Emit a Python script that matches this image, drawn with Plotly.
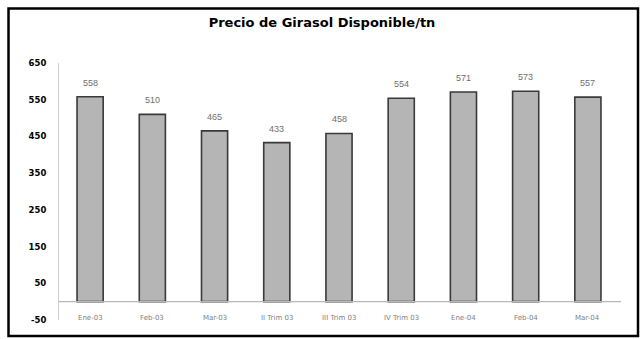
import plotly.graph_objects as go

# Monthly / quarterly sunflower prices (per tonne)
categories = ["Ene-03", "Feb-03", "Mar-03", "II Trim 03", "III Trim 03",
              "IV Trim 03", "Ene-04", "Feb-04", "Mar-04"]
prices = [558, 510, 465, 433, 458, 554, 571, 573, 557]
y_ticks = [650, 550, 450, 350, 250, 150, 50, -50]

W, H = 641, 339
L, R, T, B = 59, 22, 63, 19
pw, ph = W - L - R, H - T - B

fig = go.Figure()
fig.add_trace(go.Bar(
    x=categories,
    y=prices,
    marker=dict(color="#b5b5b5", line=dict(color="#3a3a3a", width=1.6)),
    hoverinfo="x+y",
))

# value labels above each bar
for c, v in zip(categories, prices):
    fig.add_annotation(x=c, y=v, text=str(v), showarrow=False,
                       yanchor="bottom", yshift=7,
                       font=dict(family="Liberation Sans", size=9, color="#6e6e6e"))

# category labels sit on the bottom row of the value range
for c in categories:
    fig.add_annotation(x=c, y=-50, text=c, showarrow=False,
                       yanchor="middle", yshift=2,
                       font=dict(family="DejaVu Sans", size=7, color="#808080"))

# zero baseline
fig.add_shape(type="line", xref="paper", yref="y", x0=0, x1=(621 - L) / pw,
              y0=0, y1=0, line=dict(color="#b8b8b8", width=1.2))

# outer frame
fig.add_shape(type="rect", xref="paper", yref="paper",
              x0=(8.5 - L) / pw, x1=(638 - L) / pw,
              y0=(H - 336 - B) / ph, y1=(H - 8.5 - B) / ph,
              line=dict(color="black", width=2.5), fillcolor="rgba(0,0,0,0)")

fig.update_layout(
    width=W, height=H,
    margin=dict(l=L, r=R, t=T, b=B),
    paper_bgcolor="white", plot_bgcolor="white",
    bargap=0.58,
    showlegend=False,
    title=dict(text="Precio de Girasol Disponible/tn", x=322 / W, xanchor="center",
               y=1 - 22 / H, yanchor="middle",
               font=dict(family="DejaVu Sans", size=13, color="black", weight="bold")),
    xaxis=dict(showticklabels=False, showline=False, showgrid=False, zeroline=False,
               ticks=""),
    yaxis=dict(range=[-50, 650], tickvals=y_ticks, ticktext=[str(t) for t in y_ticks],
               showgrid=False, zeroline=False, showline=True, linecolor="#cfcfcf",
               linewidth=1, ticks="", ticklabelstandoff=10,
               tickfont=dict(family="DejaVu Sans", size=8.5, color="black", weight="bold")),
)

fig.write_html("out.html")
